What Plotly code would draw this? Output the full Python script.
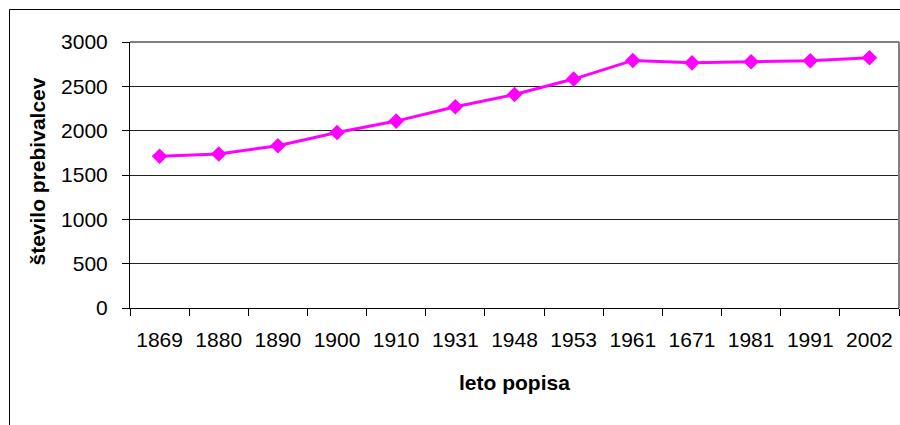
import plotly.graph_objects as go

years = ["1869", "1880", "1890", "1900", "1910", "1931", "1948", "1953",
         "1961", "1671", "1981", "1991", "2002"]
population = [1712, 1737, 1830, 1980, 2108, 2270, 2408, 2582, 2792, 2765, 2777, 2788, 2822]
y_ticks = [0, 500, 1000, 1500, 2000, 2500, 3000]

W, H = 900, 425
L, R, T, B = 130, 1, 42, 117
pw, ph = W - L - R, H - T - B

def px_x(px):
    return (px - L) / pw

def px_y(py):
    return (H - B - py) / ph

fig = go.Figure()
fig.add_trace(go.Scatter(
    x=years, y=population, mode="lines+markers",
    line=dict(color="#FF00FF", width=3),
    marker=dict(symbol="diamond", size=12, color="#FF00FF"),
    showlegend=False, hoverinfo="x+y",
))

font_family = "Liberation Sans, Arial, sans-serif"

fig.update_layout(
    width=W, height=H,
    margin=dict(l=L, r=R, t=T, b=B, pad=0),
    paper_bgcolor="white", plot_bgcolor="white",
    font=dict(family=font_family, size=21, color="black"),
    xaxis=dict(
        type="category", range=[-0.5, len(years) - 0.5],
        showline=True, linecolor="black", linewidth=1,
        ticks="outside", tickson="boundaries", ticklen=7, tickcolor="black",
        showgrid=False, zeroline=False, automargin=False,
        tickfont=dict(size=21), ticklabelstandoff=13,
    ),
    yaxis=dict(
        range=[0, 3000], tickvals=y_ticks,
        showline=True, linecolor="black", linewidth=1,
        ticks="outside", ticklen=7, tickcolor="black",
        showgrid=True, gridcolor="#222222", gridwidth=1,
        zeroline=False, automargin=False,
        tickfont=dict(size=21), ticklabelstandoff=10,
    ),
    annotations=[
        dict(text="<b>leto popisa</b>", xref="paper", yref="paper",
             x=0.5, y=0, yshift=-74, xanchor="center", yanchor="middle",
             showarrow=False, font=dict(size=21)),
        dict(text="<b>število prebivalcev</b>", xref="paper", yref="paper",
             x=0, xshift=37 - L, y=0.5, yshift=3.5, xanchor="center", yanchor="middle",
             textangle=-90, showarrow=False, font=dict(size=21)),
    ],
    shapes=[
        dict(type="line", xref="paper", yref="paper", x0=0, x1=1, y0=1, y1=1,
             line=dict(color="#808080", width=2), layer="above"),
        dict(type="line", xref="paper", yref="paper", x0=1, x1=1, y0=0, y1=1,
             line=dict(color="#808080", width=2), layer="above"),
        dict(type="line", xref="paper", yref="paper",
             x0=px_x(9.5), x1=px_x(905), y0=px_y(9.5), y1=px_y(9.5),
             line=dict(color="black", width=1), layer="above"),
        dict(type="line", xref="paper", yref="paper",
             x0=px_x(9.5), x1=px_x(9.5), y0=px_y(9.5), y1=px_y(430),
             line=dict(color="black", width=1), layer="above"),
    ],
)

fig.write_html(
    "out.html",
    config={"displayModeBar": False},
    post_script="document.body.style.margin='0';document.body.style.overflow='hidden';",
)
